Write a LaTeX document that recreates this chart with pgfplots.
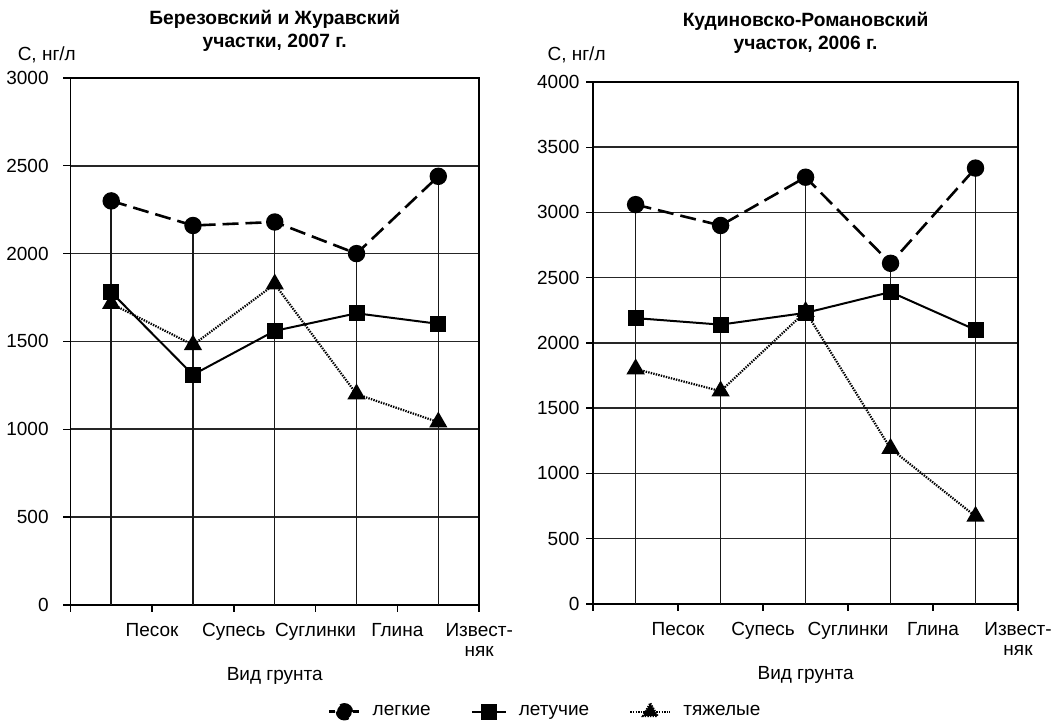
\documentclass[border=0pt]{standalone}
\usepackage{fontspec}
\setmainfont{Liberation Sans}
\usepackage{pgfplots}
\pgfplotsset{compat=1.18}
\begin{document}
\fontsize{9.5}{11.5}\selectfont
\begin{tikzpicture}
\path (0,0) rectangle (531.5pt,-361pt);
\pgfplotsset{
 panel/.style={
  scale only axis, clip=false,
  xmin=0, xmax=5, ymin=0,
  xtick={0,1,2,3,4,5},
  xticklabels={,Песок,Супесь,Суглинки,Глина,{Извест-\\няк}},
  xticklabel style={align=center, anchor=north, yshift=-2.5pt},
  ymajorgrids, grid style={black!85, line width=0.75pt},
  axis line style={line width=0.75pt},
  tick style={black, line width=0.7pt},
  tick align=outside, major tick length=3.5pt,
  xtick pos=lower, ytick pos=left,
  /pgf/number format/assume math mode=true,
  /pgf/number format/1000 sep={},
  font=\fontsize{9.5}{11.5}\selectfont,
  tick label style={font=\fontsize{9.5}{10}\selectfont},
  xlabel={Вид грунта},
  xlabel style={at={(0.5,-0.135)}, anchor=center},
  title style={font=\bfseries\fontsize{9.6}{11.5}\selectfont, align=center, anchor=center},
 },
 drop/.style={ycomb, black!90, line width=0.7pt, no marks, forget plot},
 sL/.style={black, line width=1.3pt, dash pattern=on 8pt off 3.5pt, mark=*, mark size=3.7pt, mark options={solid},
   legend image code/.code={\draw[solid, line width=1.3pt] (0pt,0pt) -- (3pt,0pt);
     \draw[solid, line width=1.3pt] (12pt,0pt) -- (15pt,0pt);
     \fill (7.5pt,0pt) circle (3.7pt);}},
 sV/.style={black, line width=1pt, mark=square*, mark size=3.5pt,
   legend image code/.code={\draw[solid, line width=1pt] (0pt,0pt) -- (17pt,0pt);
     \fill (5pt,-3.5pt) rectangle (12pt,3.5pt);}},
 sT/.style={black, line width=1.1pt, dash pattern=on 0.7pt off 0.6pt, mark=triangle*, mark size=4.2pt, mark options={solid},
   legend image code/.code={\draw[dash pattern=on 0.7pt off 0.6pt, line width=1.1pt] (0pt,0pt) -- (20pt,0pt);
     \fill (10pt,4.2pt) -- (13.64pt,-2.1pt) -- (6.36pt,-2.1pt) -- cycle;}},
}
% Left panel
\begin{axis}[panel,
  at={(35pt,-302.5pt)}, anchor=south west,
  width=204.5pt, height=263.5pt,
  ymax=3000, ytick={0,500,...,3000},
  yticklabel style={xshift=-4pt},
  title={Березовский и Журавский\\участки, 2007 г.},
  title style={at={(0.5,1.066)}},
  legend style={at={(1.164,-0.203)}, anchor=center, draw=none, font=\fontsize{9.5}{11.5}\selectfont,
    legend columns=3,
    /tikz/every odd column/.append style={column sep=4pt},
    /tikz/every even column/.append style={column sep=18pt}},
]
\addplot[drop] coordinates {(0.5,2300) (1.5,2160) (2.5,2180) (3.5,2000) (4.5,2440)};
\addplot[sL] coordinates {(0.5,2300) (1.5,2160) (2.5,2180) (3.5,2000) (4.5,2440)};
\addplot[sV] coordinates {(0.5,1780) (1.5,1310) (2.5,1560) (3.5,1660) (4.5,1600)};
\addplot[sT] coordinates {(0.5,1715) (1.5,1480) (2.5,1826) (3.5,1200) (4.5,1040)};
\legend{легкие, летучие, тяжелые}
\node at (rel axis cs:-0.0575,1.044) {С, нг/л};
\end{axis}
% Right panel
\begin{axis}[panel,
  at={(296.5pt,-302pt)}, anchor=south west,
  width=212.5pt, height=261pt,
  ymax=4000, ytick={0,500,...,4000},
  yticklabel style={xshift=0pt},
  title={Кудиновско-Романовский\\участок, 2006 г.},
  title style={at={(0.5,1.071)}},
  xlabel style={at={(0.5,-0.137)}},
]
\addplot[drop] coordinates {(0.5,3060) (1.5,2900) (2.5,3270) (3.5,2610) (4.5,3340)};
\addplot[sL] coordinates {(0.5,3060) (1.5,2900) (2.5,3270) (3.5,2610) (4.5,3340)};
\addplot[sV] coordinates {(0.5,2190) (1.5,2140) (2.5,2230) (3.5,2390) (4.5,2100)};
\addplot[sT] coordinates {(0.5,1800) (1.5,1630) (2.5,2240) (3.5,1190) (4.5,670)};
\node at (rel axis cs:-0.039,1.052) {С, нг/л};
\end{axis}
\end{tikzpicture}
\end{document}
